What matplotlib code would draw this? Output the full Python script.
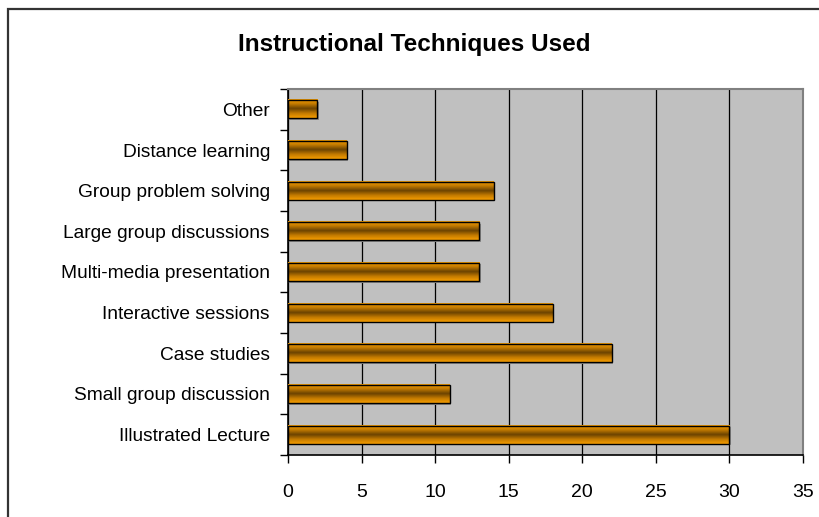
import matplotlib.pyplot as plt
import numpy as np
from matplotlib.colors import LinearSegmentedColormap
from matplotlib.patches import Rectangle

plt.rcParams['font.family'] = ['Liberation Sans', 'DejaVu Sans']

# data (bottom to top)
categories = ['Illustrated Lecture', 'Small group discussion', 'Case studies',
              'Interactive sessions', 'Multi-media presentation',
              'Large group discussions', 'Group problem solving',
              'Distance learning', 'Other']
values = [30, 11, 22, 18, 13, 13, 14, 4, 2]
x_ticks = [0, 5, 10, 15, 20, 25, 30, 35]

fig = plt.figure(figsize=(8.2, 5.17), dpi=100)

# outer chart border (Excel style)
fig.patches.append(Rectangle((8 / 820, -0.05), 1.1, (517 - 9) / 517 + 0.05,
                             transform=fig.transFigure, fill=False,
                             edgecolor='#333333', linewidth=1.6))

ax = fig.add_axes([288 / 820, 62 / 517, 515 / 820, 366 / 517])
ax.set_facecolor('#C0C0C0')

# orange "cylinder" gradient
cmap = LinearSegmentedColormap.from_list('cyl', ['#F59C00', '#C27A00', '#6A4200',
                                                 '#C27A00', '#F59C00'])
grad = np.linspace(0, 1, 64).reshape(-1, 1)
h = 0.45
for i, v in enumerate(values):
    # little drop shadow
    ax.add_patch(Rectangle((0, i - h / 2 - 0.04), v + 0.1, h,
                           facecolor='#8a8a8a', edgecolor='none', zorder=2))
    ax.imshow(grad, extent=(0, v, i - h / 2, i + h / 2), aspect='auto',
              cmap=cmap, interpolation='bilinear', zorder=3)
    ax.add_patch(Rectangle((0, i - h / 2), v, h, fill=False,
                           edgecolor='black', linewidth=1.0, zorder=4))

ax.set_xlim(0, 35)
ax.set_ylim(-0.5, len(categories) - 0.5)
ax.set_xticks(x_ticks)
ax.set_xticklabels([str(t) for t in x_ticks], fontsize=14)
ax.xaxis.grid(True, color='black', linewidth=0.9)
ax.set_axisbelow(True)

# category labels centered, ticks at boundaries
ax.set_yticks(range(len(categories)))
ax.set_yticklabels(categories, fontsize=13.8)
ax.tick_params(axis='y', which='major', length=0, pad=13)
ax.set_yticks(np.arange(-0.5, len(categories), 1), minor=True)
ax.tick_params(axis='y', which='minor', length=6, width=1, direction='out')
ax.tick_params(axis='x', length=6, width=1, direction='out', pad=15)

for s in ['top', 'right']:
    ax.spines[s].set_color('#808080')
    ax.spines[s].set_linewidth(1.5)
for s in ['left', 'bottom']:
    ax.spines[s].set_color('black')
    ax.spines[s].set_linewidth(1.2)

fig.text(414 / 820, 1 - 45 / 517, 'Instructional Techniques Used',
         ha='center', va='center', fontsize=17.5, fontweight='bold')

fig.savefig('out.png', dpi=100)
